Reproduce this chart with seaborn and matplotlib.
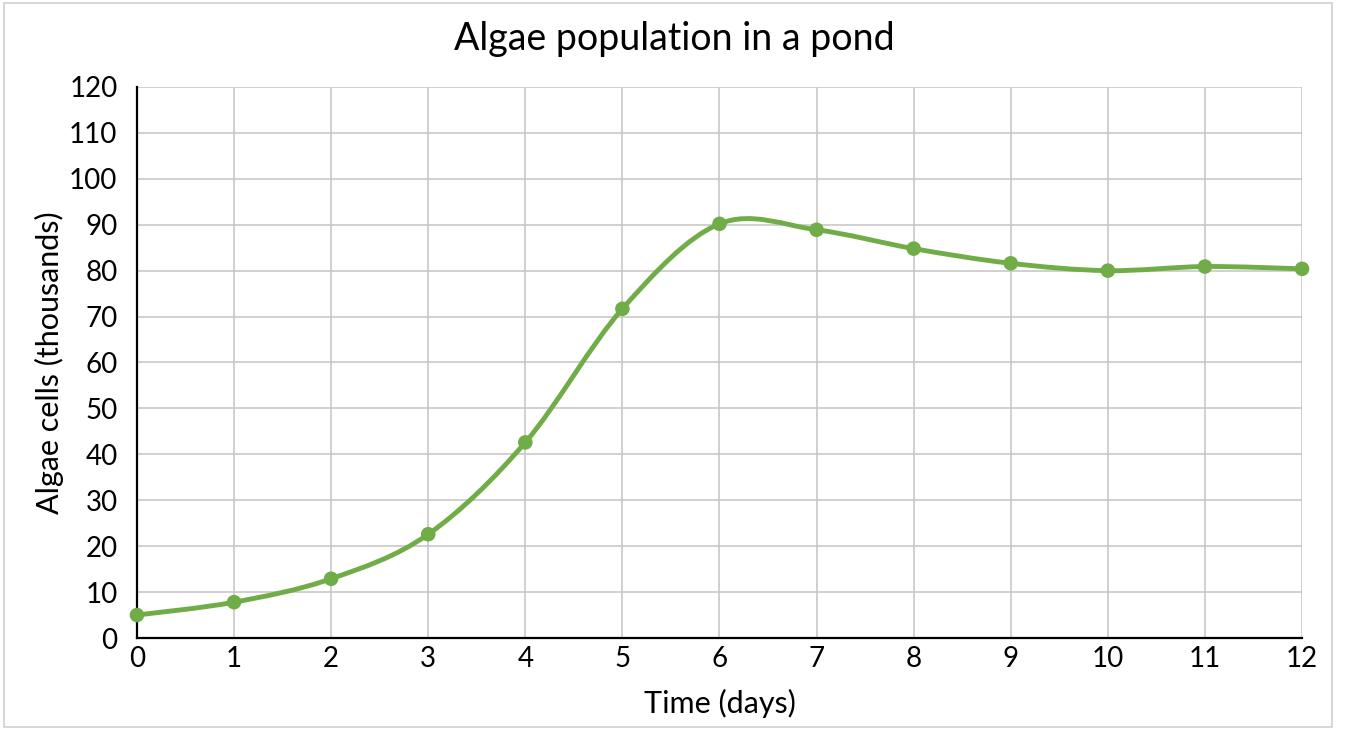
import numpy as np
import seaborn as sns
import matplotlib.pyplot as plt
from matplotlib.path import Path
from matplotlib.patches import PathPatch, Rectangle

# data
days = [0, 1, 2, 3, 4, 5, 6, 7, 8, 9, 10, 11, 12]
algae = [5.0, 7.8, 12.9, 22.6, 42.6, 71.7, 90.2, 88.9, 84.8, 81.6, 80.0, 80.9, 80.4]
y_ticks = list(range(0, 121, 10))

green = '#70AD47'

sns.set_theme(style='whitegrid')
plt.rcParams['font.family'] = ['Lato', 'DejaVu Sans']

fig = plt.figure(figsize=(13.48, 7.41), dpi=100)
ax = fig.add_axes([0.1016, 0.139, 0.8643, 0.7436])

# smoothed line like excel (bezier through points)
pts = np.column_stack([days, algae])
padded = np.vstack([pts[0], pts, pts[-1]])
verts = [tuple(pts[0])]
codes = [Path.MOVETO]
for i in range(len(pts) - 1):
    p0, p1, p2, p3 = padded[i], padded[i + 1], padded[i + 2], padded[i + 3]
    c1 = p1 + (p2 - p0) / 6
    c2 = p2 - (p3 - p1) / 6
    verts += [tuple(c1), tuple(c2), tuple(p2)]
    codes += [Path.CURVE4] * 3
ax.add_patch(PathPatch(Path(verts, codes), facecolor='none', edgecolor=green,
                       lw=3.5, zorder=3, clip_on=False))

sns.scatterplot(x=days, y=algae, ax=ax, color=green, s=110, edgecolor='none',
                zorder=4, clip_on=False)

ax.set_xlim(0, 12)
ax.set_ylim(0, 120)
ax.set_xticks(days)
ax.set_yticks(y_ticks)
ax.tick_params(labelsize=20, colors='black', length=0)
ax.tick_params(axis='y', pad=14)
ax.tick_params(axis='x', pad=6)
ax.grid(True, color='#c8c8c8', lw=1.2)
for side in ['top', 'right']:
    ax.spines[side].set_visible(False)
for side in ['left', 'bottom']:
    ax.spines[side].set_color('black')
    ax.spines[side].set_linewidth(1.6)
    ax.spines[side].set_zorder(2)

ax.set_xlabel('Time (days)', fontsize=22, color='black', labelpad=12)
ax.set_ylabel('Algae cells (thousands)', fontsize=22, color='black', labelpad=4)
fig.text(0.5, 0.948, 'Algae population in a pond', ha='center', va='center',
         fontsize=27, color='black')

# thin frame round the chart
fig.patches.append(Rectangle((0.003, 0.019), 0.985, 0.977, transform=fig.transFigure,
                             fill=False, edgecolor='#d0d0d0', lw=1.2))

fig.savefig('out.png', dpi=100)
